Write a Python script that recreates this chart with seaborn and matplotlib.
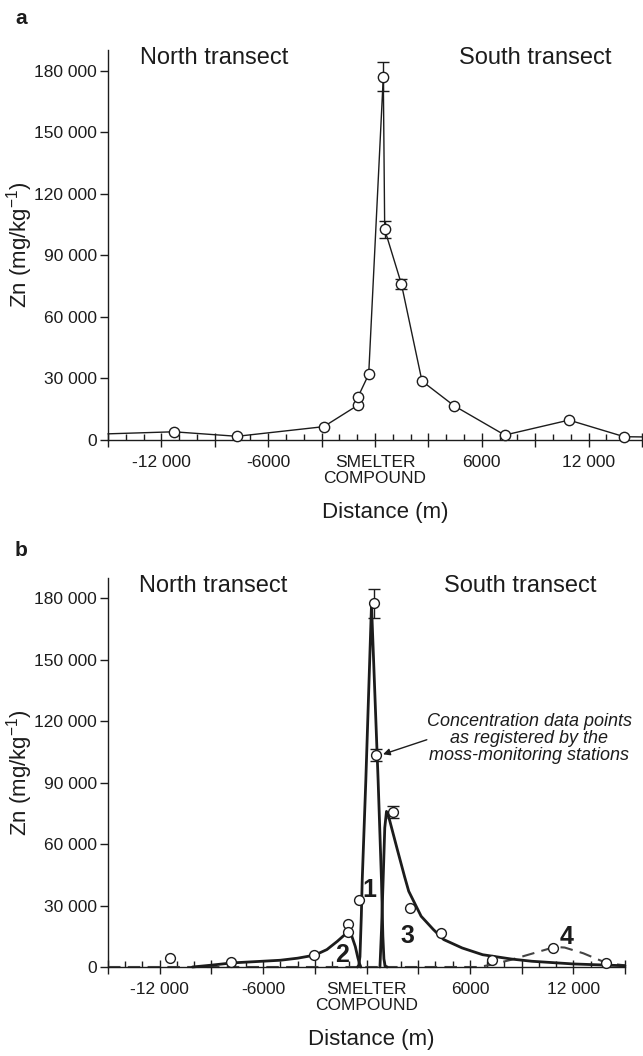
import matplotlib
matplotlib.use("Agg")
import matplotlib.pyplot as plt
import seaborn as sns
from matplotlib.ticker import FixedLocator, MultipleLocator

# ---------------- data ----------------
# Panel a: measured line (distance in m, Zn in mg/kg)
line_a_x = [-15000, -11300, -7750, -2880, -955, -955, -354, 466, 545, 1483, 2640, 4440, 7290, 10900, 14000, 15000]
line_a_y = [3000, 4000, 1800, 6500, 17000, 21000, 32000, 177000, 102600, 76000, 28700, 16700, 2400, 9700, 1600, 1500]
stations_a_x = [-11300, -7750, -2880, -955, -955, -354, 466, 545, 1483, 2640, 4440, 7290, 10900, 14000]
stations_a_y = [4000, 1800, 6500, 17000, 21000, 32000, 177000, 102600, 76000, 28700, 16700, 2400, 9700, 1600]
err_a_x = [466, 545, 1483]
err_a_y = [177000, 102600, 76000]
err_a_e = [7000, 4000, 2500]

# Panel b: stations and modelled curves
stations_b_x = [-11400, -7860, -3050, -1070, -1070, -450, 440, 580, 1510, 2520, 4310, 7290, 10830, 13900]
stations_b_y = [4400, 2300, 6000, 21200, 17300, 32600, 177700, 103400, 75800, 28900, 16600, 3300, 9300, 1800]
err_b_x = [440, 580, 1510]
err_b_y = [177700, 103400, 75800]
err_b_e = [7000, 3000, 2800]

curve1_x = [-520, -450, -380, -300, -250, -40, 290, 675, 870, 950, 1010, 1080, 1200]
curve1_y = [0, 800, 5000, 25000, 42000, 91000, 177000, 91000, 42000, 15000, 4000, 500, 0]
curve2_x = [-10100, -9000, -7800, -6500, -5000, -4000, -3000, -2300, -1700, -1300, -1050, -850, -650, -500, -400, -330]
curve2_y = [0, 900, 2000, 2600, 3300, 4300, 5800, 8500, 12500, 15500, 17000, 15000, 10000, 4500, 1500, 0]
curve3_x = [780, 870, 965, 1060, 1160, 1300, 1800, 2214, 2450, 3170, 3880, 4480, 5550, 6740, 8400, 9600, 11980, 14830, 15000]
curve3_y = [0, 18000, 42400, 68000, 76000, 73000, 57000, 44000, 37000, 24800, 18300, 13400, 9300, 6000, 3900, 2800, 1500, 650, 600]
curve4_x = [-15000, 6500, 7170, 8330, 9680, 10930, 11500, 12580, 13970, 15000]
curve4_y = [0, 0, 1000, 3400, 6700, 9800, 9500, 6700, 1800, 800]

curve_labels = ["1", "2", "3", "4"]
curve_label_x = [190, -1400, 2400, 11600]
curve_label_y = [37800, 6000, 15000, 14500]

y_ticks = [0, 30000, 60000, 90000, 120000, 150000, 180000]
y_tick_labels = ["0", "30 000", "60 000", "90 000", "120 000", "150 000", "180 000"]
x_major = [-15000, -12000, -9000, -6000, -3000, 0, 3000, 6000, 9000, 12000, 15000]
x_major_labels = ["", "-12 000", "", "-6000", "", "SMELTER\nCOMPOUND", "", "6000", "", "12 000", ""]

# ---------------- style ----------------
sns.set_style("ticks")
plt.rcParams["font.family"] = ["Liberation Sans", "DejaVu Sans"]
plt.rcParams["mathtext.fontset"] = "custom"
plt.rcParams["mathtext.rm"] = "Liberation Sans"
plt.rcParams["mathtext.it"] = "Liberation Sans:italic"
INK = "#1c1c1c"
TICK_FS = 12.5

W, H = 643, 1056
fig = plt.figure(figsize=(W / 100, H / 100), dpi=100)
ax_a = fig.add_axes([108 / W, 1 - 440 / H, 534 / W, 390 / H])
ax_b = fig.add_axes([108 / W, 1 - 967 / H, 517 / W, 389 / H])


def style_axis(ax, xlab_x, ylab_x):
    ax.set_xlim(-15000, 15000)
    ax.set_ylim(0, 190000)
    sns.despine(ax=ax)
    for s in ["left", "bottom"]:
        ax.spines[s].set_color(INK)
        ax.spines[s].set_linewidth(1.0)
    ax.yaxis.set_major_locator(FixedLocator(y_ticks))
    ax.set_yticklabels(y_tick_labels, fontsize=TICK_FS)
    ax.xaxis.set_major_locator(FixedLocator(x_major))
    ax.xaxis.set_minor_locator(MultipleLocator(1000))
    ax.set_xticklabels(x_major_labels, fontsize=TICK_FS)
    for lab in ax.get_xticklabels():
        lab.set_linespacing(1.05)
    ax.tick_params(axis="y", direction="out", length=6, width=1, pad=2, color=INK, labelcolor=INK)
    ax.tick_params(axis="x", which="major", direction="inout", length=10, width=1, pad=6, color=INK, labelcolor=INK)
    ax.tick_params(axis="x", which="minor", direction="in", length=4, width=1, color=INK)
    ax.set_ylabel("Zn (mg/kg$^{-1}$)", fontsize=16, color=INK)
    ax.set_xlabel("Distance (m)", fontsize=16, color=INK)
    ax.yaxis.set_label_coords(ylab_x, 0.5)
    ax.xaxis.set_label_coords(xlab_x, -0.16)
    ax.text(-13200, 186000, "North transect", fontsize=17, color=INK, va="center", ha="left")


# ---------------- panel a ----------------
sns.lineplot(x=line_a_x, y=line_a_y, sort=False, estimator=None, ax=ax_a,
             color=INK, linewidth=1.0, clip_on=False, zorder=3)
ax_a.errorbar(err_a_x, err_a_y, yerr=err_a_e, fmt="none", ecolor=INK,
              elinewidth=1.0, capsize=4, capthick=1.0, zorder=4, clip_on=False)
sns.scatterplot(x=stations_a_x, y=stations_a_y, ax=ax_a, marker="o", s=55,
                color="white", edgecolor=INK, linewidth=1.0, zorder=5, clip_on=False)
style_axis(ax_a, 0.52, -0.137)
ax_a.text(4700, 186000, "South transect", fontsize=17, color=INK, va="center", ha="left")

# ---------------- panel b ----------------
for cx, cy in [(curve1_x, curve1_y), (curve2_x, curve2_y), (curve3_x, curve3_y)]:
    sns.lineplot(x=cx, y=cy, sort=False, estimator=None, ax=ax_b,
                 color=INK, linewidth=2.0, clip_on=False, zorder=3)
sns.lineplot(x=curve4_x, y=curve4_y, sort=False, estimator=None, ax=ax_b,
             color="#444444", linewidth=1.5, linestyle=(0, (6, 3.5)), clip_on=False, zorder=2)
ax_b.errorbar(err_b_x, err_b_y, yerr=err_b_e, fmt="none", ecolor=INK,
              elinewidth=1.0, capsize=4, capthick=1.0, zorder=4, clip_on=False)
sns.scatterplot(x=stations_b_x, y=stations_b_y, ax=ax_b, marker="o", s=50,
                color="white", edgecolor=INK, linewidth=1.0, zorder=5, clip_on=False)
style_axis(ax_b, 0.51, -0.142)
ax_b.text(4500, 186000, "South transect", fontsize=17, color=INK, va="center", ha="left")

for lab, lx, ly in zip(curve_labels, curve_label_x, curve_label_y):
    ax_b.text(lx, ly, lab, fontsize=18, fontweight="bold", color=INK, ha="center", va="center", zorder=6)

ax_b.text(9430, 111500, "Concentration data points\nas registered by the\nmoss-monitoring stations",
          fontsize=13, style="italic", color=INK, ha="center", va="center", linespacing=1.0)
ax_b.annotate("", xy=(960, 103900), xytext=(3500, 111000),
              arrowprops=dict(arrowstyle="-|>", color=INK, lw=1.0, mutation_scale=10,
                              shrinkA=0, shrinkB=0))

fig.text(15 / W, 1 - 18 / H, "a", fontsize=15, fontweight="bold", color=INK, va="center", ha="left")
fig.text(15 / W, 1 - 550 / H, "b", fontsize=15, fontweight="bold", color=INK, va="center", ha="left")

fig.savefig("out.png", dpi=100, facecolor="white")
